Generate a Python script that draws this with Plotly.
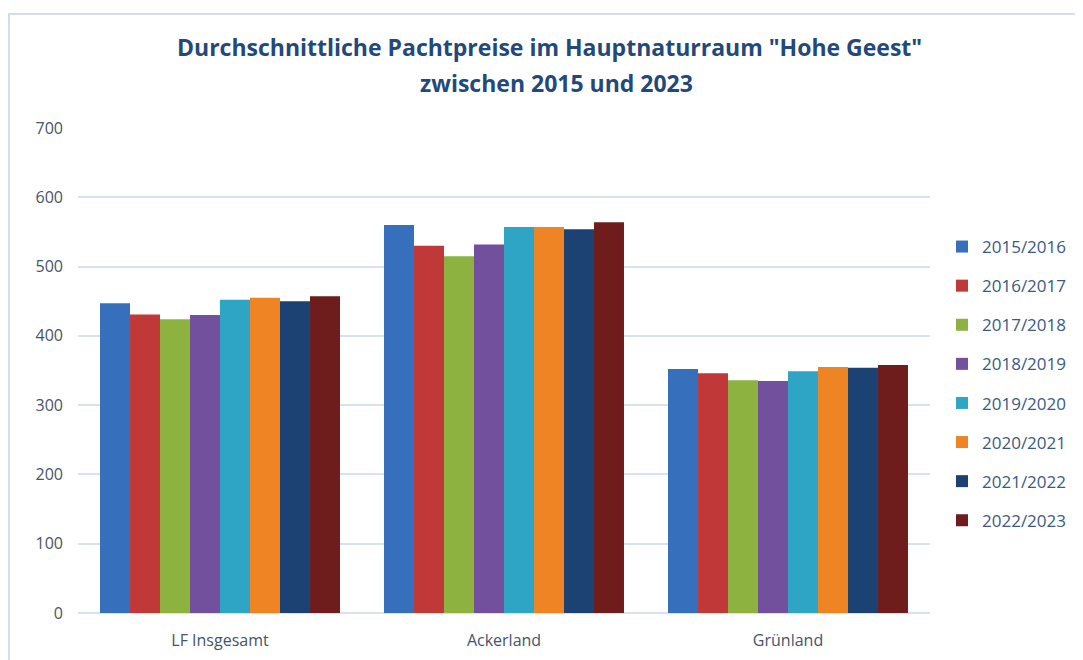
import plotly.graph_objects as go

categories = ["LF Insgesamt", "Ackerland", "Grünland"]
seasons = ["2015/2016", "2016/2017", "2017/2018", "2018/2019",
           "2019/2020", "2020/2021", "2021/2022", "2022/2023"]
v_2015_16 = [447, 560, 352]
v_2016_17 = [431, 530, 346]
v_2017_18 = [424, 515, 336]
v_2018_19 = [430, 532, 335]
v_2019_20 = [452, 557, 349]
v_2020_21 = [455, 557, 355]
v_2021_22 = [450, 554, 354]
v_2022_23 = [457, 564, 358]
series = [v_2015_16, v_2016_17, v_2017_18, v_2018_19,
          v_2019_20, v_2020_21, v_2021_22, v_2022_23]
colors = ["#3670BD", "#C03837", "#8DB240", "#72509D",
          "#2FA5C6", "#EE8424", "#1C4273", "#6F1C1C"]
y_ticks = [0, 100, 200, 300, 400, 500, 600, 700]
title_lines = ["Durchschnittliche Pachtpreise im Hauptnaturraum \"Hohe Geest\"",
               "zwischen 2015 und 2023"]

fig = go.Figure()
for name, vals, col in zip(seasons, series, colors):
    fig.add_trace(go.Bar(
        x=categories, y=vals, name=name, legendgroup=name,
        marker=dict(color=col, line=dict(width=0)),
    ))

font_family = "Open Sans, Liberation Sans, sans-serif"
# page body has an 8px margin: figure drawn at screen (8, 8)
W, H = 1075, 652
L, R, T, B = 70, 153, 120, 47
PW, PH = W - L - R, H - T - B


def px(x):
    return (x - 8 - L) / PW


def py(y):
    return (H - B - (y - 8)) / PH


fig.update_layout(
    width=W, height=H,
    paper_bgcolor="white", plot_bgcolor="white",
    margin=dict(l=L, r=R, t=T, b=B, autoexpand=False),
    barmode="group", bargap=0.155, bargroupgap=0,
    font=dict(family=font_family, color="#44546A"),
    xaxis=dict(showgrid=False, showline=False, ticks="", automargin=False,
               ticklabelstandoff=16,
               tickfont=dict(size=16, color="#44546A")),
    yaxis=dict(range=[0, 700], tickvals=y_ticks, showgrid=True,
               gridcolor="#D6E2F1", gridwidth=2, zeroline=True,
               zerolinecolor="#D6E2F1", zerolinewidth=2, automargin=False,
               ticks="", ticklabelstandoff=14,
               tickfont=dict(size=16, color="#44546A")),
    legend=dict(x=px(942), xanchor="left", y=py(229), yanchor="top",
                font=dict(size=17, color="#3A5A85"),
                tracegroupgap=14, itemwidth=30,
                bgcolor="rgba(0,0,0,0)"),
    shapes=[dict(type="rect", xref="paper", yref="paper",
                 x0=px(9), x1=px(1200), y0=py(700), y1=py(14),
                 line=dict(color="#D3DEEC", width=2), layer="below")],
    annotations=[
        dict(text="<b>" + title_lines[0] + "</b>", xref="paper", yref="paper",
             x=px(549), y=py(47), xanchor="center", yanchor="middle",
             showarrow=False, font=dict(family=font_family, size=23, color="#23497A")),
        dict(text="<b>" + title_lines[1] + "</b>", xref="paper", yref="paper",
             x=px(556), y=py(83), xanchor="center", yanchor="middle",
             showarrow=False, font=dict(family=font_family, size=23, color="#23497A")),
    ],
)

fig.write_html("out.html")
